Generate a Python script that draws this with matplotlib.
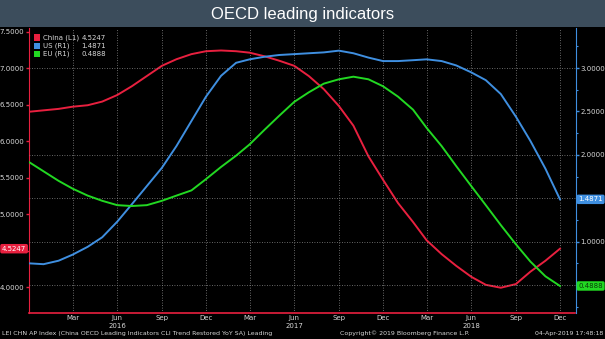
import matplotlib
matplotlib.use('Agg')
import matplotlib.pyplot as plt
import matplotlib.dates as mdates
from matplotlib.ticker import FormatStrFormatter, FuncFormatter, MultipleLocator
from matplotlib.patches import Rectangle
import pandas as pd

# 数据（从原图读取，月度）
months = pd.date_range('2015-12-01', '2018-12-01', freq='MS')
china = [6.40, 6.42, 6.44, 6.47, 6.49, 6.54, 6.63, 6.75, 6.89, 7.03, 7.12, 7.19,
         7.23, 7.24, 7.23, 7.21, 7.16, 7.10, 7.03, 6.89, 6.71, 6.48, 6.21, 5.79,
         5.47, 5.15, 4.89, 4.64, 4.45, 4.29, 4.14, 4.03, 3.99, 4.04, 4.21, 4.36, 4.5247]
us = [0.75, 0.74, 0.78, 0.85, 0.94, 1.05, 1.23, 1.43, 1.64, 1.85, 2.10, 2.39,
      2.67, 2.91, 3.06, 3.10, 3.13, 3.15, 3.16, 3.17, 3.18, 3.20, 3.17, 3.12,
      3.08, 3.08, 3.09, 3.10, 3.08, 3.03, 2.95, 2.86, 2.70, 2.44, 2.16, 1.84, 1.4871]
eu = [1.92, 1.81, 1.70, 1.61, 1.53, 1.47, 1.42, 1.41, 1.42, 1.47, 1.53, 1.59,
      1.72, 1.86, 1.99, 2.12, 2.29, 2.45, 2.61, 2.72, 2.82, 2.87, 2.90, 2.87,
      2.79, 2.67, 2.52, 2.31, 2.10, 1.87, 1.64, 1.42, 1.19, 0.97, 0.77, 0.60, 0.4888]
names = ['China (L1)', 'US (R1)', 'EU (R1)']
last_labels = ['4.5247', '1.4871', '0.4888']
left_ticks = [4.0, 4.5, 5.0, 5.5, 6.0, 6.5, 7.0, 7.5]
left_hidden = [4.5]          # 被末值标签遮住的刻度
right_ticks = [0.5, 1.0, 1.5, 2.0, 2.5, 3.0]
right_hidden = [0.5, 1.5]
right_grid = [0.5, 1.0, 1.5, 2.0, 3.0]

RED = '#e8203f'
BLUE = '#3f8fe0'
GREEN = '#22d822'
TXT = '#d8d8d8'
GRID = '#8a8a8a'

W, H = 605, 339
fig = plt.figure(figsize=(W / 100, H / 100), dpi=100, facecolor='black')
ax = fig.add_axes([29 / W, 1 - 312.7 / H, (575.5 - 29) / W, (312.7 - 28) / H])
ax.set_facecolor('black')
ax2 = ax.twinx()

# 标题栏
fig.patches.append(Rectangle((0, 1 - 27 / H), 1, 27 / H, transform=fig.transFigure,
                             facecolor='#3c4d5c', edgecolor='none', zorder=0))
fig.text(0.5, 1 - 14 / H, 'OECD leading indicators', ha='center', va='center',
         color='white', fontsize=12, family='Liberation Sans')

# 曲线
ax.plot(months, china, color=RED, linewidth=1.4, zorder=3)
ax2.plot(months, us, color=BLUE, linewidth=1.4, zorder=3)
ax2.plot(months, eu, color=GREEN, linewidth=1.4, zorder=3)

ax.set_xlim(pd.Timestamp('2015-12-02'), pd.Timestamp('2019-01-02'))
ax.set_ylim(3.648, 7.548)
ax2.set_ylim(0.181, 3.461)

# x 轴
def month_fmt(v, pos):
    d = mdates.num2date(v)
    if d.month == 6:
        return d.strftime('%b') + '\n' + str(d.year)
    return d.strftime('%b')

ax.xaxis.set_major_locator(mdates.MonthLocator(bymonth=[3, 6, 9, 12]))
ax.xaxis.set_major_formatter(FuncFormatter(month_fmt))
ax.tick_params(axis='x', length=0, labelsize=5, colors=TXT, pad=2)
for lbl in ax.get_xticklabels():
    lbl.set_linespacing(1.4)
ax.grid(axis='x', color=GRID, linestyle=(0, (1, 2)), linewidth=0.6)

# 左轴
ax.set_yticks(left_ticks)
ax.set_yticklabels(['' if t in left_hidden else '%.4f' % t for t in left_ticks])
ax.tick_params(axis='y', colors=RED, labelcolor=TXT, labelsize=5, length=2.5, width=1, pad=1)

# 右轴
ax2.set_yticks(right_ticks)
ax2.set_yticklabels(['' if t in right_hidden else '%.4f' % t for t in right_ticks])
ax2.yaxis.set_minor_locator(MultipleLocator(0.25))
ax2.tick_params(axis='y', which='major', colors=BLUE, labelcolor=TXT, labelsize=5,
                length=2.5, width=1, pad=1)
ax2.tick_params(axis='y', which='minor', colors=BLUE, length=1.5, width=0.8)
for v in right_grid:
    ax2.axhline(v, color=GRID, linestyle=(0, (1, 2)), linewidth=0.6, zorder=1)

for a in (ax, ax2):
    for s in a.spines.values():
        s.set_visible(False)
ax.spines['left'].set_visible(True)
ax.spines['left'].set_color(RED)
ax.spines['bottom'].set_visible(True)
ax.spines['bottom'].set_color(RED)
ax.spines['bottom'].set_linewidth(1.2)
ax2.spines['right'].set_visible(True)
ax2.spines['right'].set_color(BLUE)

# 末值标签
ax.annotate(last_labels[0], xy=(0, china[-1]), xycoords=('axes fraction', 'data'),
            xytext=(-2, 0), textcoords='offset points', ha='right', va='center',
            fontsize=5, color='white', annotation_clip=False, zorder=5,
            bbox=dict(boxstyle='round,pad=0.25', fc=RED, ec='none'))
ax2.annotate(last_labels[1], xy=(1, us[-1]), xycoords=('axes fraction', 'data'),
             xytext=(2, 0), textcoords='offset points', ha='left', va='center',
             fontsize=5, color='white', annotation_clip=False, zorder=5,
             bbox=dict(boxstyle='round,pad=0.25', fc=BLUE, ec='none'))
ax2.annotate(last_labels[2], xy=(1, eu[-1]), xycoords=('axes fraction', 'data'),
             xytext=(2, 0), textcoords='offset points', ha='left', va='center',
             fontsize=5, color='#0a3a0a', annotation_clip=False, zorder=5,
             bbox=dict(boxstyle='round,pad=0.25', fc=GREEN, ec='none'))

# 图例
for i, (n, v, c) in enumerate(zip(names, last_labels, [RED, BLUE, GREEN])):
    y = 1 - (37.5 + 8.3 * i) / H
    fig.patches.append(Rectangle((34 / W, y - 3 / H), 6 / W, 6 / H, transform=fig.transFigure,
                                 facecolor=c, edgecolor='none', zorder=5))
    fig.text(43 / W, y, n, ha='left', va='center', color=TXT, fontsize=5)
    fig.text(106 / W, y, v, ha='right', va='center', color=TXT, fontsize=5)

# 底部说明
fig.text(2 / W, 1 - 333 / H,
         'LEI CHN AP Index (China OECD Leading Indicators CLI Trend Restored YoY SA) Leading',
         ha='left', va='center', color=TXT, fontsize=4.5)
fig.text(340 / W, 1 - 333 / H, 'Copyright\u00a9 2019 Bloomberg Finance L.P.',
         ha='left', va='center', color=TXT, fontsize=4.5)
fig.text(603 / W, 1 - 333 / H, '04-Apr-2019 17:48:18',
         ha='right', va='center', color=TXT, fontsize=4.5)

fig.savefig('out.png', dpi=100, facecolor='black')
